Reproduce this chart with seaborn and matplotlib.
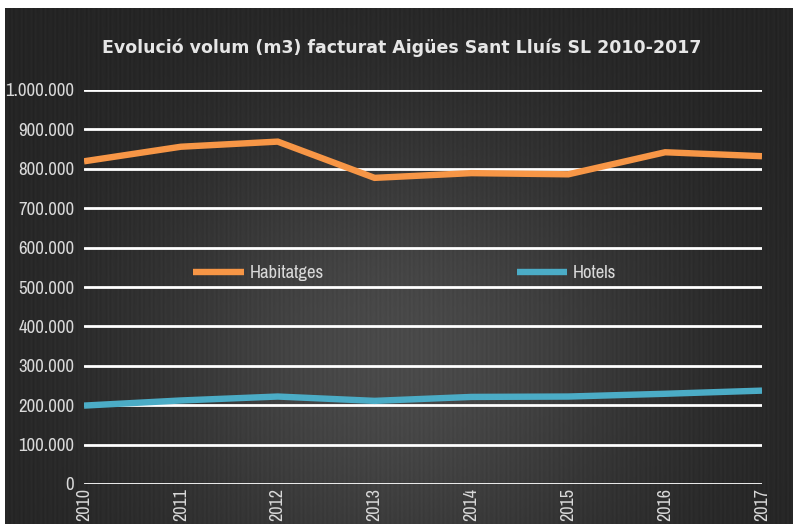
import numpy as np
import pandas as pd
import matplotlib
matplotlib.use("Agg")
import matplotlib.pyplot as plt
import matplotlib.ticker as mticker
from matplotlib import font_manager
import seaborn as sns

years = ["2010", "2011", "2012", "2013", "2014", "2015", "2016", "2017"]
habitatges = [819000, 856000, 869000, 777000, 789000, 786000, 842000, 832000]
hotels = [199000, 212000, 222000, 211000, 221000, 222000, 229000, 237000]
series_names = ["Habitatges", "Hotels"]
colors = ["#F79646", "#4BACC6"]
title = "Evolució volum (m3) facturat Aigües Sant Lluís SL 2010-2017"

df = pd.DataFrame({
    "year": years * 2,
    "value": habitatges + hotels,
    "serie": [series_names[0]] * len(years) + [series_names[1]] * len(years),
})

sns.set_theme(style="dark")

# look for a condensed family if one exists
cond = None
for f in font_manager.fontManager.ttflist:
    n = f.name.lower()
    if ("narrow" in n or "condensed" in n) and f.weight in (400, "normal", "regular"):
        cond = f.name
        break
if cond:
    fam = [cond, "Liberation Sans", "DejaVu Sans"]
    ysize, xsize = 13.5, 13
else:
    fam = ["Liberation Sans", "DejaVu Sans"]
    ysize, xsize = 11, 11
plt.rcParams["font.family"] = fam

W, H = 793, 524
fig = plt.figure(figsize=(W / 100, H / 100), dpi=100)
fig.patch.set_facecolor("white")

# background panel with radial gradient
bg = fig.add_axes([5 / W, 0, 1 - 5 / W, 1 - 8 / H])
bg.set_axis_off()
gx, gy = np.meshgrid(np.linspace(5, W, 400), np.linspace(8, H, 300))
r2 = ((gx - 400) / 330) ** 2 + ((gy - 360) / 300) ** 2
val = 0.14 + 0.15 * np.exp(-r2 * 1.6)
stripes = 0.012 * np.sin(gx * 1.3)
img = np.clip(val + stripes, 0, 1)
bg.imshow(np.dstack([img, img, img]), aspect="auto", extent=[0, 1, 0, 1], origin="upper")
bg.set_xlim(0, 1)
bg.set_ylim(0, 1)

ax = fig.add_axes([84 / W, 1 - 484 / H, (762 - 84) / W, (484 - 90) / H])
ax.patch.set_alpha(0)
sns.lineplot(data=df, x="year", y="value", hue="serie", palette=colors,
             linewidth=4.6, ax=ax, sort=False, solid_capstyle="butt",
             solid_joinstyle="miter")
ax.set_ylim(0, 1_000_000)
ax.set_xlim(0, len(years) - 1)
ax.set_yticks(np.arange(0, 1_000_001, 100_000))
ax.yaxis.set_major_formatter(mticker.FuncFormatter(lambda v, p: f"{int(v):,}".replace(",", ".")))
ax.grid(axis="y", color="white", linewidth=2)
ax.grid(axis="x", visible=False)
ax.set_axisbelow(True)
for s in ax.spines.values():
    s.set_visible(False)
ax.set_xlabel("")
ax.set_ylabel("")
ax.tick_params(axis="y", colors="#d9d9d9", labelsize=ysize, length=0, pad=7)
ax.tick_params(axis="x", colors="#d9d9d9", labelsize=xsize, length=0, pad=3, labelrotation=90)

leg = ax.legend(loc="center", bbox_to_anchor=(0.473, 0.535), ncol=2, frameon=False,
                columnspacing=10.3, handlelength=2.7, handletextpad=0.3,
                fontsize=ysize)
for t in leg.get_texts():
    t.set_color("#d9d9d9")
for h in leg.get_lines():
    h.set_linewidth(4.6)
    h.set_solid_capstyle("butt")

fig.text(402 / W, 1 - 48 / H, title, ha="center", va="center", color="#e6e6e6",
         fontsize=12.5, fontweight="bold", family=["DejaVu Sans"])

fig.savefig("out.png", dpi=100, facecolor=fig.get_facecolor())
